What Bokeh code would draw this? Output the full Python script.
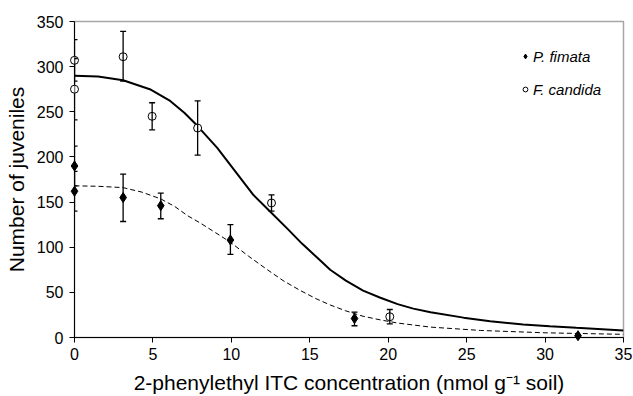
from bokeh.plotting import figure
from bokeh.models import Range1d, Whisker, TeeHead, ColumnDataSource, Legend, LegendItem, FixedTicker
from bokeh.embed import file_html
from bokeh.resources import INLINE

# ---- data ----
cand_x = [0, 0, 3.1, 4.95, 7.85, 12.56, 20.1]
cand_y = [307, 275, 311, 245, 232, 149, 23]
cand_lo = [284, 241, 284, 230, 202, 140, 15]
cand_hi = [330, 309, 339, 260, 262, 158, 31]

fim_x = [0, 0, 3.1, 5.5, 9.94, 17.85, 32.1]
fim_y = [190, 162, 155, 146, 108, 21, 2]
fim_lo = [168, 140, 128.5, 131.5, 92, 13, 2]
fim_hi = [212, 184, 181, 160, 125, 28, 2]

# fitted curves
cand_fit_x = [0, 1.5, 3.1, 4.8, 6.1, 7.0, 7.8, 9.1, 10.2, 11.4, 12.5, 13.6, 14.5,
              15.5, 16.3, 17.3, 18.4, 19.5, 20.6, 21.6, 22.7, 24.8, 26.5, 28.6, 30.3, 32.0, 35.0]
cand_fit_y = [290, 289, 285, 275, 262, 249, 235, 210, 185, 158, 139, 120, 104,
              88, 75, 63, 52, 44, 37, 32, 28, 22, 18, 14.5, 12.5, 10.7, 7.8]

fim_fit_x = [0, 1.5, 3.1, 4.3, 5.5, 6.4, 7.2, 8.0, 9.0, 9.9, 11.1, 12.3, 13.3, 14.4,
             15.4, 16.3, 17.3, 18.4, 19.5, 20.6, 22.7, 25.9, 30.0, 35.0]
fim_fit_y = [168, 167.5, 166, 161, 153.5, 145, 135, 127, 116, 106, 90, 75, 63, 52,
             43, 36, 29.5, 23.5, 19.5, 16, 11.5, 7.8, 5.2, 3.5]

x_ticks = [0, 5, 10, 15, 20, 25, 30, 35]
y_ticks = [0, 50, 100, 150, 200, 250, 300, 350]

FONT = "Liberation Sans"

p = figure(width=633, height=396, output_backend="svg", toolbar_location=None,
           x_range=Range1d(0, 35), y_range=Range1d(0, 350),
           min_border_left=74, min_border_right=10, min_border_top=21, min_border_bottom=59)
p.background_fill_color = "white"
p.outline_line_color = "#a6a6a6"
p.outline_line_width = 1.5
p.xgrid.visible = False
p.ygrid.visible = False

for ax in (p.xaxis[0], p.yaxis[0]):
    ax.axis_line_color = "black"
    ax.axis_line_width = 1
    ax.major_tick_line_color = "black"
    ax.major_tick_in = 0
    ax.major_tick_out = 5
    ax.minor_tick_line_color = None
    ax.major_label_text_font = FONT
    ax.major_label_text_font_size = "16px"
    ax.major_label_text_color = "black"
    ax.axis_label_text_font = FONT
    ax.axis_label_text_font_size = "21px"
    ax.axis_label_text_font_style = "normal"
    ax.axis_label_text_color = "black"

p.xaxis.ticker = FixedTicker(ticks=x_ticks)
p.yaxis.ticker = FixedTicker(ticks=y_ticks)
p.xaxis.axis_label = "2-phenylethyl ITC concentration (nmol g\u207b\u00b9 soil)"
p.yaxis.axis_label = "Number of juveniles"
p.xaxis.major_label_standoff = 5
p.xaxis.axis_label_standoff = 8
p.yaxis.major_label_standoff = 6
p.yaxis.axis_label_standoff = 6

# fitted curves
p.line(cand_fit_x, cand_fit_y, line_color="black", line_width=2)
p.line(fim_fit_x, fim_fit_y, line_color="black", line_width=1, line_dash="5 3")

# error bars
cs = ColumnDataSource(dict(x=cand_x, y=cand_y, lo=cand_lo, hi=cand_hi))
fs = ColumnDataSource(dict(x=fim_x, y=fim_y, lo=fim_lo, hi=fim_hi))
for src in (cs, fs):
    w = Whisker(source=src, base="x", lower="lo", upper="hi", dimension="height",
                line_color="black", line_width=1.3, level="overlay",
                lower_head=TeeHead(size=6, line_color="black", line_width=1.3),
                upper_head=TeeHead(size=6, line_color="black", line_width=1.3))
    p.add_layout(w)

r_c = p.scatter("x", "y", source=cs, marker="circle", size=8, fill_color="white",
                line_color="black", line_width=1, level="overlay")
r_f = p.scatter("x", "y", source=fs, marker="diamond", size=10, fill_color="black",
                line_color="black", line_width=1, level="overlay")

legend = Legend(items=[LegendItem(label="P. fimata", renderers=[r_f]),
                       LegendItem(label="F. candida", renderers=[r_c])],
                location=(445, 238), orientation="vertical",
                glyph_width=12, glyph_height=20, label_height=20, spacing=13,
                label_standoff=2, padding=0, margin=0,
                border_line_color=None, background_fill_alpha=0,
                label_text_font=FONT, label_text_font_size="15px",
                label_text_font_style="italic", label_text_color="black")
p.add_layout(legend)

open("out.html", "w").write(file_html(p, INLINE))
